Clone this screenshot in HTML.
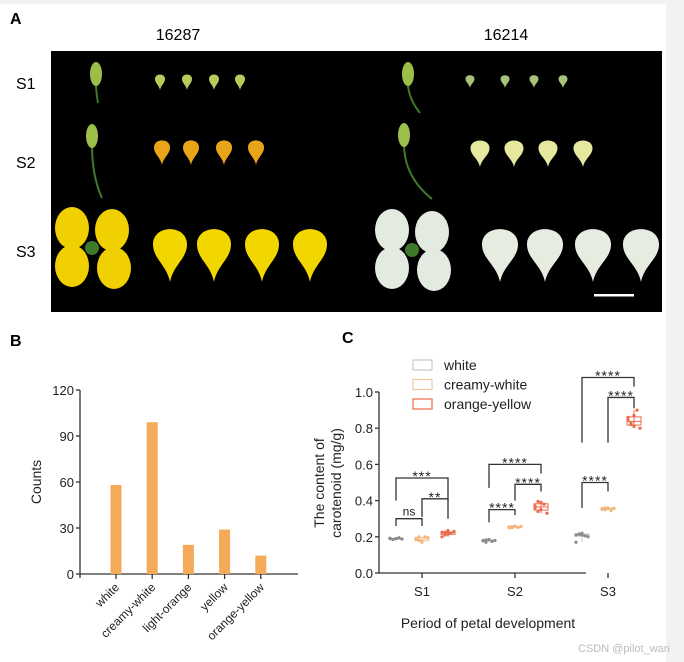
<!DOCTYPE html>
<html><head><meta charset="utf-8"><style>
body{margin:0;width:684px;height:662px;background:#fff;overflow:hidden;font-family:"Liberation Sans",Arial,sans-serif;}
svg{position:absolute;left:0;top:0}
</style></head><body>
<svg width="684" height="662" viewBox="0 0 684 662">
<rect x="0" y="0" width="684" height="662" fill="#fff"/>
<rect x="666" y="0" width="18" height="662" fill="#f2f2f2"/>
<rect x="0" y="0" width="684" height="4" fill="#f2f2f2"/>
<g>
<text x="10" y="24" font-size="16" font-weight="bold">A</text>
<text x="178" y="40" font-size="16" text-anchor="middle">16287</text>
<text x="506" y="40" font-size="16" text-anchor="middle">16214</text>
<text x="16" y="89" font-size="16">S1</text>
<text x="16" y="168" font-size="16">S2</text>
<text x="16" y="257" font-size="16">S3</text>
<rect x="51" y="51" width="611" height="261" fill="#000"/>
<g id="photos"></g>
<rect x="594" y="294" width="40" height="2.5" fill="#fff"/>
</g>
<g>
<text x="10" y="346" font-size="16" font-weight="bold">B</text>
<g id="chartB"></g>
</g>
<g>
<text x="342" y="343" font-size="16" font-weight="bold">C</text>
<g id="chartC"></g>
</g>
<text x="578" y="652" font-size="11" fill="#bbb">CSDN @pilot_wan</text>
</svg>
<script>
const bCategories = ["white","creamy-white","light-orange","yellow","orange-yellow"];
const bValues = [58, 99, 19, 29, 12];
const bTicks = [0, 30, 60, 90, 120];
const cStages = ["S1","S2","S3"];
const cSeries = ["white","creamy-white","orange-yellow"];
const cWhite = [[0.19,0.185,0.19,0.195,0.188,0.192,0.186,0.19],[0.18,0.17,0.185,0.175,0.18,0.178,0.183],[0.21,0.215,0.22,0.205,0.2,0.17,0.215,0.21]];
const cCreamy = [[0.19,0.18,0.175,0.2,0.195,0.185,0.2,0.17],[0.255,0.25,0.26,0.252,0.258,0.25,0.256],[0.355,0.35,0.36,0.345,0.358,0.352,0.36]];
const cOrange = [[0.225,0.21,0.235,0.22,0.23,0.2,0.225,0.215],[0.36,0.34,0.39,0.38,0.33,0.37,0.395,0.35],[0.845,0.82,0.87,0.9,0.8,0.86,0.83,0.81]];
const cTicks = [0, 0.2, 0.4, 0.6, 0.8, 1.0];
const cSig = [
 ["S1",0,1,0.30,0.26,0.26,"ns"],["S1",1,2,0.41,0.31,0.30,"**"],["S1",0,2,0.525,0.40,0.40,"***"],
 ["S2",0,1,0.35,0.28,0.32,"****"],["S2",1,2,0.49,0.40,0.45,"****"],["S2",0,2,0.60,0.47,0.55,"****"],
 ["S3",0,1,0.50,0.36,0.45,"****"],["S3",1,2,0.97,0.72,0.91,"****"],["S3",0,2,1.08,0.72,1.03,"****"]
];
const NS="http://www.w3.org/2000/svg";
function mk(parent,tag,attrs,text){const e=document.createElementNS(NS,tag);for(const k in attrs)e.setAttribute(k,attrs[k]);if(text!==undefined)e.textContent=text;parent.appendChild(e);return e;}

(function(){
 const g=document.getElementById('photos');
 function petal(cx,top,w,h,fill){
  const p=mk(g,'path',{d:`M${cx-w/2},${top+h*0.35} C${cx-w/2},${top} ${cx+w/2},${top} ${cx+w/2},${top+h*0.35} C${cx+w/2},${top+h*0.6} ${cx+w*0.1},${top+h*0.7} ${cx},${top+h} C${cx-w*0.1},${top+h*0.7} ${cx-w/2},${top+h*0.6} ${cx-w/2},${top+h*0.35}Z`,fill:fill});
  
  
 }
 function bud(cx,top,h,stemEnd){
  const s=mk(g,'path',{d:`M${cx},${top+20} Q${cx},${top+h*0.7} ${stemEnd},${top+h}`,stroke:'#3f7a2a','stroke-width':2,fill:'none'});
  
  
  const b=mk(g,'ellipse',{cx:cx,cy:top+11,rx:6,ry:12,fill:'#9cbf4a'});
  
  
 }
 bud(96,63,40,98); bud(92,125,73,102); bud(408,63,50,420); bud(404,124,75,432);
 [160,187,214,240].forEach(x=>petal(x,73,10,17,'#b9c95a'));
 [470,505,534,563].forEach(x=>petal(x,74,9,14,'#a9c27a'));
 [162,191,224,256].forEach(x=>petal(x,138,16,27,'#e8a51a'));
 [480,514,548,583].forEach(x=>petal(x,138,19,29,'#e6e8a0'));
 [170,214,262,310].forEach(x=>petal(x,224,34,58,'#f2d600'));
 [500,545,593,641].forEach(x=>petal(x,224,36,58,'#e6ece0'));
 function flower(cx,cy,fill){
  [[-20,-20],[20,-18],[-20,18],[22,20]].forEach(o=>{const e=mk(g,'ellipse',{cx:cx+o[0],cy:cy+o[1],rx:17,ry:21,fill:fill});});
  mk(g,'circle',{cx:cx,cy:cy,r:7,fill:'#3d7a2a'});
 }
 flower(92,248,'#f0d000'); flower(412,250,'#e3eae0');
})();

(function(){
 const g=document.getElementById('chartB');
 const x0=80,x1=298,y0=574,yTop=390;
 const y=v=>y0-(v/120)*(y0-yTop);
 const xc=i=>116+i*36.2;
 mk(g,'line',{x1:x0,y1:yTop,x2:x0,y2:y0+4,stroke:'#333','stroke-width':1.3});
 mk(g,'line',{x1:x0,y1:y0,x2:x1,y2:y0,stroke:'#333','stroke-width':1.3});
 bTicks.forEach(t=>{mk(g,'line',{x1:x0-4,y1:y(t),x2:x0,y2:y(t),stroke:'#333','stroke-width':1.3});
  const tl=mk(g,'text',{x:x0-6,y:y(t)+5,'font-size':13,'text-anchor':'end',fill:'#222'},t);
  
  });
 const yt=mk(g,'text',{transform:'translate(41,482) rotate(-90)','font-size':14,'text-anchor':'middle',fill:'#222'},'Counts');
 
 
 bCategories.forEach((c,i)=>{
  const r=mk(g,'rect',{x:xc(i)-5.5,y:y(bValues[i]),width:11,height:y0-y(bValues[i]),fill:'#f5aa5a'});
  
  
  mk(g,'line',{x1:xc(i),y1:y0,x2:xc(i),y2:y0+5,stroke:'#333','stroke-width':1.3});
  const t=mk(g,'text',{transform:`translate(${xc(i)+4},${y0+14}) rotate(-45)`,'font-size':12,'text-anchor':'end',fill:'#222'},c);
  
  
 });
})();

(function(){
 const g=document.getElementById('chartC');
 const x0=379,x1=586,y0=573,y1=392;
 const y=v=>y0-v*(y0-y1);
 const sx=i=>422+i*93;
 const off=[-26,0,26];
 const cols=['#8a8a8a','#f3b67a','#ea6a4a'];
 const boxCols=['#c8c8c8','#f3c79a','#ea6a4a'];
 mk(g,'line',{x1:x0,y1:y1,x2:x0,y2:y0,stroke:'#333','stroke-width':1.3});
 mk(g,'line',{x1:x0,y1:y0,x2:x1,y2:y0,stroke:'#333','stroke-width':1.3});
 cTicks.forEach(t=>{mk(g,'line',{x1:x0-4,y1:y(t),x2:x0,y2:y(t),stroke:'#333','stroke-width':1.3});
  const tl=mk(g,'text',{x:x0-6,y:y(t)+5,'font-size':13,'text-anchor':'end',fill:'#222'},t.toFixed(1));
  
  });
 cStages.forEach((s,i)=>{mk(g,'line',{x1:sx(i),y1:y0,x2:sx(i),y2:y0+5,stroke:'#333','stroke-width':1.3});
  const t=mk(g,'text',{x:sx(i),y:y0+23,'font-size':13,'text-anchor':'middle',fill:'#222'},s);
  
  });
 const xt=mk(g,'text',{x:488,y:628,'font-size':14,'text-anchor':'middle',fill:'#222'},'Period of petal development');
 
 
 const ya=mk(g,'text',{transform:'translate(324,483) rotate(-90)','font-size':14,'text-anchor':'middle',fill:'#222'},'The content of');
 
 
 const yb=mk(g,'text',{transform:'translate(341,483) rotate(-90)','font-size':14,'text-anchor':'middle',fill:'#222'},'carotenoid (mg/g)');
 
 
 const series=[cWhite,cCreamy,cOrange];
 series.forEach((ser,k)=>{
  ser.forEach((pts,i)=>{
   const cx=sx(i)+off[k];
   const sorted=[...pts].sort((a,b)=>a-b);
   const q=p=>{const idx=(sorted.length-1)*p,l=Math.floor(idx),h=Math.ceil(idx);return sorted[l]+(sorted[h]-sorted[l])*(idx-l);};
   const bx=mk(g,'rect',{x:cx-7,y:y(q(0.75)),width:14,height:Math.max(1,y(q(0.25))-y(q(0.75))),fill:'none',stroke:boxCols[k],'stroke-width':1});
   
   
   mk(g,'line',{x1:cx,y1:y(sorted[0]),x2:cx,y2:y(sorted[sorted.length-1]),stroke:boxCols[k],'stroke-width':1});
   mk(g,'line',{x1:cx-7,y1:y(q(0.5)),x2:cx+7,y2:y(q(0.5)),stroke:boxCols[k],'stroke-width':1});
   pts.forEach((v,j)=>{
    const d=mk(g,'circle',{cx:cx-6+(j%5)*3,cy:y(v),r:1.6,fill:cols[k]});
    
    
   });
  });
 });
 cSig.forEach(s=>{
  const i=cStages.indexOf(s[0]);
  const xa=sx(i)+off[s[1]],xb=sx(i)+off[s[2]];
  const p=mk(g,'path',{d:`M${xa},${y(s[4])} V${y(s[3])} H${xb} V${y(s[5])}`,fill:'none',stroke:'#333','stroke-width':1.3});
  
  
  const isNs=s[6]==='ns';
  const t=mk(g,'text',{x:(xa+xb)/2,y:y(s[3])+(isNs?-3:3),'font-size':isNs?12:14,'text-anchor':'middle',fill:'#222','letter-spacing':isNs?0:1},s[6]);
  
  
 });
 cSeries.forEach((s,k)=>{
  const r=mk(g,'rect',{x:413,y:360+k*19.5,width:19,height:10,fill:'none',stroke:boxCols[k],'stroke-width':1.2});
  
  
  const t=mk(g,'text',{x:444,y:370+k*19.5,'font-size':14,fill:'#222'},s);
  
  
 });
})();
</script>
</body></html>
